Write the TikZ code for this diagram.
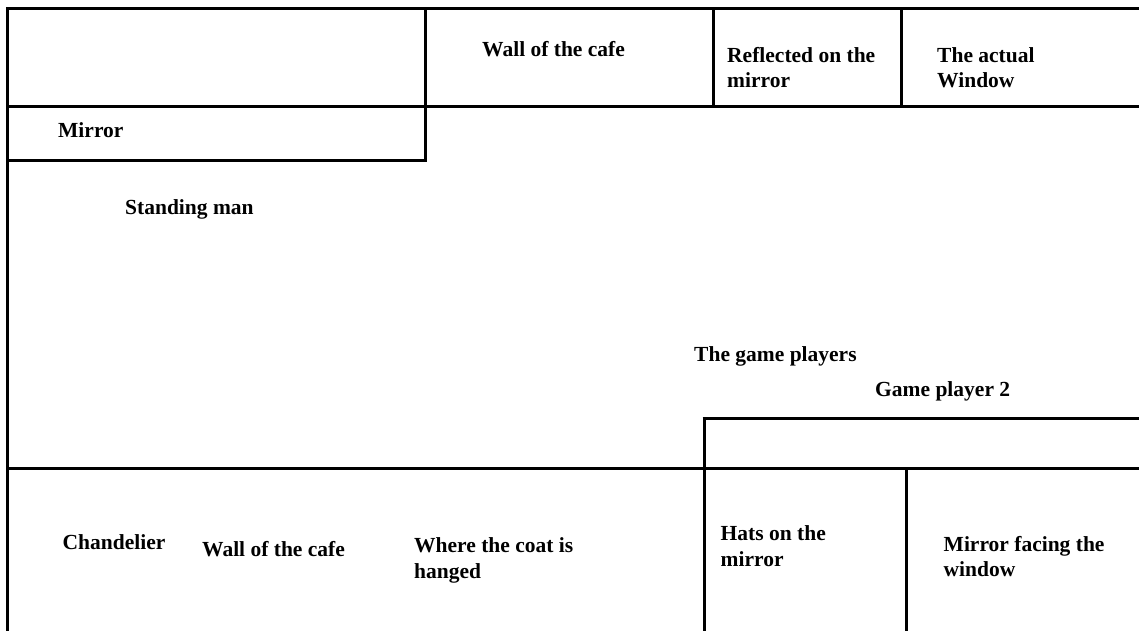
\documentclass[tikz,border=0pt]{standalone}
\usepackage{fontspec}
\setmainfont{Liberation Serif}
\begin{document}
\begin{tikzpicture}[x=1pt,y=-1pt,
  wall/.style={line width=3pt,black},
  thinwall/.style={line width=2.5pt,black},
  lbl/.style={anchor=base west,inner sep=0pt,align=left,
    font=\fontsize{21.5pt}{25.5pt}\selectfont\bfseries}]
\useasboundingbox[fill=white] (0,0) rectangle (1139,631);
% outline and partitions
\draw[thinwall] (7.5,9) -- (7.5,631);
\draw[wall] (6,9) -- (1139,9);
\draw[wall] (6,107) -- (1139,107);
\draw[wall] (425,9) -- (425,162);
\draw[wall] (6,160.5) -- (426.5,160.5);
\draw[wall] (713,9) -- (713,107);
\draw[wall] (901,9) -- (901,107);
\draw[wall] (702.5,418.5) -- (1139,418.5);
\draw[wall] (704,417) -- (704,631);
\draw[wall] (6,468) -- (1139,468);
\draw[wall] (906,468) -- (906,631);
% labels (multi-line labels are placed by the baseline of their last line)
\node[lbl] (wall1) at (482,57) {Wall of the cafe};
\node[lbl] (refl) at (727,88) {Reflected on the\\mirror};
\node[lbl] (win) at (937,88) {The actual\\Window};
\node[lbl] (mirror) at (58,137.5) {Mirror};
\node[lbl] (man) at (125,214) {Standing man};
\node[lbl] (players) at (694,361) {The game players};
\node[lbl] (player2) at (875,396) {Game player 2};
\node[lbl] (chand) at (62.5,549) {Chandelier};
\node[lbl] (wall2) at (202,556.5) {Wall of the cafe};
\node[lbl] (coat) at (414,578) {Where the coat is\\hanged};
\node[lbl] (hats) at (720.5,566) {Hats on the\\mirror};
\node[lbl] (mface) at (943.5,576.5) {Mirror facing the\\window};
\end{tikzpicture}
\end{document}
